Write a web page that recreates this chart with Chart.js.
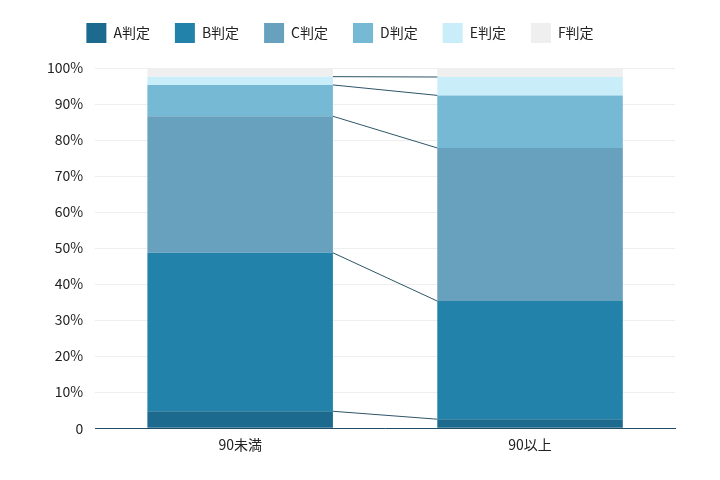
<!DOCTYPE html>
<html>
<head>
<meta charset="utf-8">
<script src="https://cdn.jsdelivr.net/npm/chart.js@4"></script>
<style>
  html, body { margin: 0; padding: 0; background: #fff; }
  #wrap { width: 720px; height: 480px; }
</style>
</head>
<body>
<div id="wrap"><canvas id="judge-chart"></canvas></div>
<script>
const categories = ['90未満', '90以上'];
const grades = ['A判定', 'B判定', 'C判定', 'D判定', 'E判定', 'F判定'];
const gradeA = [4.7, 2.5];
const gradeB = [44.0, 32.8];
const gradeC = [37.9, 42.5];
const gradeD = [8.7, 14.6];
const gradeE = [2.3, 5.1];
const gradeF = [2.4, 2.5];
const yTicks = [0, 10, 20, 30, 40, 50, 60, 70, 80, 90, 100];

const colors = ['#1c6a8e', '#2282aa', '#67a1be', '#76b9d5', '#c9eef9', '#efefef'];
const series = [gradeA, gradeB, gradeC, gradeD, gradeE, gradeF];

const fontFamily = '"Noto Sans CJK JP", Lato, sans-serif';

// 凡例の下に余白を足し、少し左へ寄せる
const legendSpacing = {
  id: 'legendSpacing',
  beforeInit(chart) {
    const fit = chart.legend.fit;
    chart.legend.fit = function () {
      fit.bind(chart.legend)();
      this.height += 15;
    };
  },
  afterLayout(chart) {
    chart.legend.left -= 15;
    chart.legend.right -= 15;
  }
};

// 各判定の境界を棒の間で結ぶ線
const connectorPlugin = {
  id: 'connectors',
  afterDatasetsDraw(chart) {
    const ctx = chart.ctx;
    const y = chart.scales.y;
    const first = chart.getDatasetMeta(0).data;
    const x1 = first[0].x + first[0].width / 2;
    const x2 = first[1].x - first[1].width / 2;
    let cum1 = 0, cum2 = 0;
    ctx.save();
    ctx.strokeStyle = '#2e5568';
    ctx.lineWidth = 1;
    for (let i = 0; i < series.length - 1; i++) {
      cum1 += series[i][0];
      cum2 += series[i][1];
      ctx.beginPath();
      ctx.moveTo(x1, y.getPixelForValue(cum1));
      ctx.lineTo(x2, y.getPixelForValue(cum2));
      ctx.stroke();
    }
    ctx.restore();
  }
};

new Chart(document.getElementById('judge-chart'), {
  type: 'bar',
  data: {
    labels: categories,
    datasets: grades.map((g, i) => ({
      label: g,
      data: series[i],
      backgroundColor: colors[i],
      borderWidth: 0,
      barPercentage: 0.64,
      categoryPercentage: 1,
    })),
  },
  options: {
    responsive: true,
    maintainAspectRatio: false,
    animation: false,
    layout: { padding: { left: 35, right: 45, top: -2, bottom: 27 } },
    plugins: {
      legend: {
        display: true,
        labels: {
          boxWidth: 20,
          boxHeight: 20,
          padding: 25,
          color: '#222',
          font: { family: fontFamily, size: 14 },
        },
      },
      tooltip: { enabled: false },
    },
    scales: {
      x: {
        stacked: true,
        grid: { display: false },
        border: { color: '#1f4e66', width: 1 },
        ticks: { color: '#222', font: { family: fontFamily, size: 14 }, padding: 0 },
      },
      y: {
        stacked: true,
        min: 0,
        max: 100,
        afterBuildTicks(axis) {
          axis.ticks = yTicks.map(v => ({ value: v }));
        },
        grid: { color: '#eeeeee', drawTicks: false },
        border: { display: false },
        ticks: {
          color: '#222',
          padding: 12,
          font: { family: fontFamily, size: 14 },
          callback: v => (v === 0 ? '0' : v + '%'),
        },
      },
    },
  },
  plugins: [legendSpacing, connectorPlugin],
});
</script>
</body>
</html>
